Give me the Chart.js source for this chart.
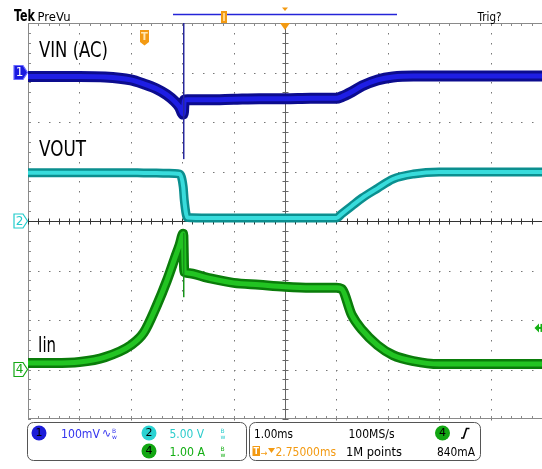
<!DOCTYPE html>
<html><head><meta charset="utf-8">
<script src="https://cdn.jsdelivr.net/npm/chart.js@4.4.0/dist/chart.umd.min.js"></script>
<style>html,body{margin:0;padding:0;background:#fff;overflow:hidden}canvas{display:block}</style>
</head><body>
<canvas id="c" width="542" height="469"></canvas>
<script>
// time relative to screen centre, ms (1.00 ms/div)
const timeMs = [-5.0,-4.5,-4.0,-3.5,-3.0,-2.75,-2.5,-2.3,-2.15,-2.05,-1.98,-1.96,-1.9,-1.5,-1.0,-0.5,0,0.5,1.0,1.1,1.3,1.5,1.8,2.1,2.5,3.0,3.5,4.0,4.5,5.0];
// CH1 VIN (AC coupled), mV (100 mV/div)
const vinMv = [-8,-8,-8,-9,-15,-23,-33,-45,-58,-70,-84,-56,-55,-55,-54,-53,-53,-52,-52,-49,-39,-27,-15,-9,-7,-7,-7,-7,-7,-7];
// CH2 VOUT, V (5 V/div)
const voutV = [4.88,4.88,4.88,4.88,4.88,4.85,4.85,4.82,4.8,4.75,3.43,2.12,0.35,0.3,0.3,0.3,0.3,0.3,0.3,0.7,1.52,2.32,3.3,4.24,4.75,4.95,4.95,4.95,4.95,4.95];
// CH4 Iin, A (1 A/div)
const iinA = [0.13,0.13,0.15,0.25,0.49,0.74,1.28,1.79,2.23,2.52,2.74,1.97,1.95,1.85,1.75,1.71,1.67,1.65,1.65,1.63,1.1,0.8,0.49,0.29,0.17,0.11,0.11,0.11,0.11,0.11];
// dropout glitches
const spikeTimeMs = [-1.97,-1.97];
const vinSpikeMv = [100,-175];
const iinSpikeA = [2.76,1.46];

const pts = (xs, ys) => xs.map((t,i)=>({x:t,y:ys[i]}));

function txt(ctx, s, x, y, size, color, w, weight, family){
  ctx.save();
  ctx.font = (weight||'normal')+' '+size+'px "'+(family||'DejaVu Sans')+'"';
  ctx.fillStyle = color; ctx.textBaseline='alphabetic'; ctx.textAlign='left';
  const m = ctx.measureText(s).width;
  ctx.translate(x,y); if (w) ctx.scale(w/m,1);
  ctx.fillText(s,0,0); ctx.restore();
}
function ctxt(ctx, s, cx, cy, size, color, weight){
  ctx.save(); ctx.font=(weight||'normal')+' '+size+'px "DejaVu Sans"';
  ctx.fillStyle=color; ctx.textAlign='center'; ctx.textBaseline='middle';
  ctx.fillText(s,cx,cy); ctx.restore();
}

const scopeGrid = {
  id:'scopeGrid',
  beforeDraw(chart){
    const {ctx} = chart;
    ctx.save(); ctx.fillStyle='#fff'; ctx.fillRect(0,0,chart.width,chart.height); ctx.restore();
  },
  beforeDatasetsDraw(chart){
    const {ctx, scales} = chart;
    const x = scales.x, yv = scales.yVout;
    const xs=[], ys=[];
    for(let i=0;i<=10;i++) xs.push(x.getPixelForValue(-5+i));
    for(let j=0;j<=8;j++) ys.push(yv.getPixelForValue(20-5*j));
    const minorX = (xs[10]-xs[0])/50, minorY=(ys[8]-ys[0])/40;
    ctx.save();
    ctx.fillStyle='#777';
    for(let i=1;i<10;i++){ if(i===5) continue;
      for(let k=0;k<=40;k++) ctx.fillRect(Math.round(xs[i]),Math.round(ys[0]+k*minorY),1,1.5);
    }
    for(let j=1;j<8;j++){ if(j===4) continue;
      for(let k=0;k<=50;k++) ctx.fillRect(Math.round(xs[0]+k*minorX),Math.round(ys[j]),1.5,1);
    }
    // borders
    ctx.strokeStyle='#8a8a8a'; ctx.lineWidth=1;
    ctx.beginPath();
    ctx.moveTo(Math.round(xs[0])+0.5, ys[0]); ctx.lineTo(Math.round(xs[0])+0.5, ys[8]);
    ctx.moveTo(xs[0], Math.round(ys[0])+0.5); ctx.lineTo(xs[10], Math.round(ys[0])+0.5);
    ctx.moveTo(xs[0], Math.round(ys[8])-0.5); ctx.lineTo(xs[10], Math.round(ys[8])-0.5);
    ctx.stroke();
    // border ticks
    ctx.beginPath();
    for(let k=0;k<=50;k++){ const px=Math.round(xs[0]+k*minorX)+0.5;
      ctx.moveTo(px, ys[0]); ctx.lineTo(px, ys[0]+3);
      ctx.moveTo(px, ys[8]); ctx.lineTo(px, ys[8]-3); }
    for(let k=0;k<=40;k++){ const py=Math.round(ys[0]+k*minorY)+0.5;
      ctx.moveTo(xs[0], py); ctx.lineTo(xs[0]+3, py); }
    ctx.stroke();
    // centre vertical
    const cx = Math.round(xs[5])+0.5, cy=Math.round(ys[4])+0.5;
    ctx.strokeStyle='#666';
    ctx.beginPath(); ctx.moveTo(cx, ys[0]); ctx.lineTo(cx, ys[8]);
    for(let k=0;k<=40;k++){ const py=Math.round(ys[0]+k*minorY)+0.5; ctx.moveTo(cx-3,py); ctx.lineTo(cx+3,py); }
    ctx.stroke();
    // centre horizontal
    ctx.strokeStyle='#333';
    ctx.beginPath(); ctx.moveTo(xs[0], cy); ctx.lineTo(xs[10], cy);
    for(let k=0;k<=50;k++){ const px=Math.round(xs[0]+k*minorX)+0.5; ctx.moveTo(px,cy-3); ctx.lineTo(px,cy+3); }
    ctx.stroke();
    ctx.restore();
  },
  afterDraw(chart){
    const {ctx, scales} = chart;
    ctx.save();
    // header
    txt(ctx,'Tek',14,21,16,'#000',21,'bold');
    txt(ctx,'PreVu',37.5,21,13,'#000',33);
    ctx.strokeStyle='#2424d8'; ctx.lineWidth=1.5;
    ctx.beginPath(); ctx.moveTo(173,14.5); ctx.lineTo(397,14.5); ctx.stroke();
    ctx.fillStyle='#f39a12'; ctx.fillRect(221,11,6,12);
    ctx.fillStyle='#ffd58a'; ctx.fillRect(223,13,2,8);
    ctx.fillStyle='#f39a12';
    ctx.beginPath(); ctx.moveTo(282,7.5); ctx.lineTo(288,7.5); ctx.lineTo(285,11); ctx.closePath(); ctx.fill();
    txt(ctx,'Trig?',477.5,21,13,'#000',24);
    // trigger position marker on graticule
    const tx = scales.x.getPixelForValue(0);
    ctx.beginPath(); ctx.moveTo(tx-5,23); ctx.lineTo(tx+5,23); ctx.lineTo(tx,30); ctx.closePath(); ctx.fill();
    // T marker
    ctx.beginPath(); ctx.moveTo(140,30); ctx.lineTo(149,30); ctx.lineTo(149,42); ctx.lineTo(144.5,45.5); ctx.lineTo(140,42); ctx.closePath(); ctx.fill();
    ctxt(ctx,'T',144.5,37,10,'#ffe6b0','bold');
    // channel labels
    txt(ctx,'VIN (AC)',39,57,21,'#000',69);
    txt(ctx,'VOUT',39,156,21,'#000',47);
    txt(ctx,'Iin',38,352,21,'#000',18);
    // channel ground markers
    const marker=(y, fill, stroke, tcol, label)=>{
      ctx.beginPath(); ctx.moveTo(14,y-7); ctx.lineTo(23,y-7); ctx.lineTo(27.5,y); ctx.lineTo(23,y+7); ctx.lineTo(14,y+7); ctx.closePath();
      ctx.fillStyle=fill; ctx.fill(); ctx.strokeStyle=stroke; ctx.lineWidth=1.2; ctx.stroke();
      ctxt(ctx,label,19.5,y+0.5,12,tcol);
    };
    marker(scales.yVin.getPixelForValue(0),'#1a1ae0','#6a6aff','#fff','1');
    marker(scales.yVout.getPixelForValue(0),'#fff','#22cccc','#22cccc','2');
    marker(scales.yIin.getPixelForValue(0),'#fff','#14a814','#14a814','4');
    // trigger level arrow ch4 (840 mA)
    const ty = scales.yIin.getPixelForValue(0.84);
    ctx.fillStyle='#14b014';
    ctx.beginPath(); ctx.moveTo(534.5,ty); ctx.lineTo(539,ty-4.5); ctx.lineTo(539,ty+4.5); ctx.closePath(); ctx.fill();
    ctx.fillRect(538,ty-1,4,2); ctx.fillRect(540.5,ty-4,1.5,8);
    // bottom panels
    ctx.strokeStyle='#555'; ctx.lineWidth=1;
    ctx.beginPath(); ctx.roundRect(27.5,422.5,219,38,6); ctx.stroke();
    ctx.beginPath(); ctx.roundRect(249.5,422.5,231,38,6); ctx.stroke();
    const circ=(cx,cy,fill,label)=>{ ctx.beginPath(); ctx.arc(cx,cy,7.5,0,Math.PI*2); ctx.fillStyle=fill; ctx.fill(); ctxt(ctx,label,cx,cy+0.5,11,'#000'); };
    circ(39,433,'#1c1cd8','1');
    txt(ctx,'100mV',61,437.5,12,'#3434ee',39);
    txt(ctx,'\u223F',102,437,12,'#3434ee',9);
    txt(ctx,'B',112,433,6,'#3434ee');
    txt(ctx,'w',112,438.5,6,'#3434ee');
    circ(149,433,'#2ad2d2','2');
    txt(ctx,'5.00 V',169.5,437.5,12,'#2ccccc',34.5);
    txt(ctx,'B',220.5,433,6,'#2ccccc');
    txt(ctx,'w',220.5,438.5,6,'#2ccccc');
    circ(149,451,'#12a612','4');
    txt(ctx,'1.00 A',169.5,455.5,12,'#14ae14',35.5);
    txt(ctx,'B',220.5,451,6,'#14ae14');
    txt(ctx,'w',220.5,456.5,6,'#14ae14');
    txt(ctx,'1.00ms',254,437.5,12,'#000',39);
    txt(ctx,'100MS/s',348.5,437.5,12,'#000',46);
    circ(442.5,433,'#12a612','4');
    ctx.strokeStyle='#000'; ctx.lineWidth=1.6;
    ctx.beginPath(); ctx.moveTo(461,438); ctx.lineTo(463.5,438); ctx.lineTo(466.5,428.5); ctx.lineTo(469.5,428.5); ctx.stroke();
    ctx.fillStyle='#f39a12'; ctx.fillRect(252.5,446,7.5,10);
    ctxt(ctx,'T',256.2,451.5,8,'#fff','bold');
    txt(ctx,'\u2192',260.5,455.5,9,'#f39a12',7);
    ctx.fillStyle='#f39a12';
    ctx.beginPath(); ctx.moveTo(268,448); ctx.lineTo(275,448); ctx.lineTo(271.5,453); ctx.closePath(); ctx.fill();
    txt(ctx,'2.75000ms',275.5,455.5,12,'#f39a12',60.5);
    txt(ctx,'1M points',346,455.5,12,'#000',56);
    txt(ctx,'840mA',437,455.5,12,'#000',38);
    ctx.restore();
  }
};

const band = (data, axis, outer, inner, wOut, wIn) => [
  {data, yAxisID:axis, borderColor:outer, borderWidth:wOut, order:10},
  {data, yAxisID:axis, borderColor:inner, borderWidth:wIn, order:5}
];

new Chart(document.getElementById('c'), {
  type:'line',
  data:{ datasets:[
    ...band(pts(timeMs,vinMv),'yVin','#0c0c8e','#1e1ee4',11,5),
    ...band(pts(timeMs,voutV),'yVout','#0b8f8f','#38dcdc',9,4),
    ...band(pts(timeMs,iinA),'yIin','#0a7c0a','#22c422',10,5),
    {data:pts(spikeTimeMs,vinSpikeMv), yAxisID:'yVin', borderColor:'#28289c', borderWidth:1.5, order:1},
    {data:pts(spikeTimeMs,iinSpikeA), yAxisID:'yIin', borderColor:'#17931a', borderWidth:1.5, order:1}
  ]},
  options:{
    responsive:false, animation:false, events:[],
    layout:{padding:{left:28,right:0,top:23,bottom:50}},
    elements:{point:{radius:0}, line:{cubicInterpolationMode:'monotone', borderCapStyle:'butt', borderJoinStyle:'round'}},
    plugins:{legend:{display:false}, tooltip:{enabled:false}},
    scales:{
      x:{type:'linear', min:-5, max:5, display:false},
      yVin:{type:'linear', min:-700, max:100, display:false},
      yVout:{type:'linear', min:-20, max:20, display:false},
      yIin:{type:'linear', min:-1, max:7, display:false}
    }
  },
  plugins:[scopeGrid]
});
</script>
</body></html>
